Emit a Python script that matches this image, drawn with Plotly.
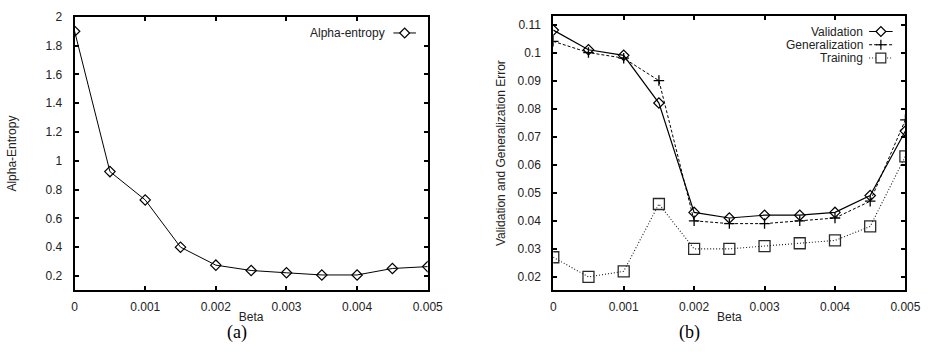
import plotly.graph_objects as go

beta = [0, 0.0005, 0.001, 0.0015, 0.002, 0.0025, 0.003, 0.0035, 0.004, 0.0045, 0.005]
alpha_entropy = [1.90, 0.925, 0.728, 0.40, 0.275, 0.238, 0.222, 0.207, 0.207, 0.252, 0.265]
validation = [0.108, 0.101, 0.099, 0.082, 0.043, 0.041, 0.042, 0.042, 0.043, 0.049, 0.072]
generalization = [0.104, 0.100, 0.098, 0.090, 0.040, 0.039, 0.039, 0.040, 0.041, 0.047, 0.076]
training = [0.027, 0.020, 0.022, 0.046, 0.030, 0.030, 0.031, 0.032, 0.033, 0.038, 0.063]

x_ticks = [0, 0.001, 0.002, 0.003, 0.004, 0.005]
x_ticktext = ["0", "0.001", "0.002", "0.003", "0.004", "0.005"]
ya_ticks = [0.2, 0.4, 0.6, 0.8, 1.0, 1.2, 1.4, 1.6, 1.8, 2.0]
ya_ticktext = ["0.2", "0.4", "0.6", "0.8", "1", "1.2", "1.4", "1.6", "1.8", "2"]
yb_ticks = [0.02, 0.03, 0.04, 0.05, 0.06, 0.07, 0.08, 0.09, 0.10, 0.11]
yb_ticktext = ["0.02", "0.03", "0.04", "0.05", "0.06", "0.07", "0.08", "0.09", "0.1", "0.11"]

W, H = 941, 359
def px(x):
    return x / W
def py(y):
    return 1 - y / H

SANS = "Liberation Sans, Arial, sans-serif"
SERIF = "Liberation Serif, DejaVu Serif, serif"
FS = 12

fig = go.Figure()

fig.add_trace(go.Scatter(x=beta, y=alpha_entropy, mode="lines+markers", xaxis="x", yaxis="y",
                         line=dict(color="black", width=1),
                         marker=dict(symbol="diamond-open", size=8, color="black", line=dict(width=1.2)),
                         showlegend=False))
fig.add_trace(go.Scatter(x=beta, y=validation, mode="lines+markers", xaxis="x2", yaxis="y2",
                         line=dict(color="black", width=1.2),
                         marker=dict(symbol="diamond-open", size=8, color="black", line=dict(width=1.2)),
                         showlegend=False))
fig.add_trace(go.Scatter(x=beta, y=generalization, mode="lines+markers", xaxis="x2", yaxis="y2",
                         line=dict(color="black", width=1, dash="3px,2px"),
                         marker=dict(symbol="cross-thin-open", size=7.5, color="black", line=dict(width=1.3, color="black")),
                         showlegend=False))
fig.add_trace(go.Scatter(x=beta, y=training, mode="lines+markers", xaxis="x2", yaxis="y2",
                         line=dict(color="#1a1a1a", width=1.1, dash="1px,2px"),
                         marker=dict(symbol="square-open", size=11, color="#2a2a2a", line=dict(width=1.3)),
                         showlegend=False))

axis_common = dict(showline=True, linecolor="black", linewidth=2, mirror="ticks",
                   ticks="inside", ticklen=4, tickwidth=1.5, tickcolor="black",
                   showgrid=False, zeroline=False,
                   tickfont=dict(family=SANS, size=FS, color="#222222"))
title_font = dict(family=SANS, size=FS, color="#222222")

fig.update_layout(
    width=W, height=H, margin=dict(l=0, r=0, t=0, b=0),
    paper_bgcolor="white", plot_bgcolor="white",
    xaxis=dict(domain=[px(73), px(433)], range=[0, 0.005], anchor="y",
               tickvals=x_ticks, ticktext=x_ticktext, ticklabelstandoff=4,
               title=dict(text="Beta", font=title_font, standoff=0),
               **axis_common),
    yaxis=dict(domain=[py(289), py(10)], range=[0.1, 2.0], anchor="x",
               tickvals=ya_ticks, ticktext=ya_ticktext, ticklabelstandoff=8,
               title=dict(text="Alpha-Entropy", font=title_font, standoff=26),
               **axis_common),
    xaxis2=dict(domain=[px(561), px(920)], range=[0, 0.005], anchor="y2",
                tickvals=x_ticks, ticktext=x_ticktext, ticklabelstandoff=4,
                title=dict(text="Beta", font=title_font, standoff=0),
                **axis_common),
    yaxis2=dict(domain=[py(289), py(9)], range=[0.0152, 0.1131], anchor="x2",
                tickvals=yb_ticks, ticktext=yb_ticktext, ticklabelstandoff=8,
                title=dict(text="Validation and Generalization Error", font=title_font, standoff=9),
                **axis_common),
)

# panel captions
fig.add_annotation(text="(a)", x=px(226), y=py(345), xref="paper", yref="paper",
                   showarrow=False, font=dict(family=SERIF, size=18, color="black"))
fig.add_annotation(text="(b)", x=px(713), y=py(345), xref="paper", yref="paper",
                   showarrow=False, font=dict(family=SERIF, size=18, color="black"))

# legends (gnuplot style: text right-aligned, sample to the right)
def legend_entry(text, text_right, yc, sample_x0, sample_x1, symbol, dash, color="black"):
    fig.add_annotation(text=text, x=px(text_right), y=py(yc), xref="paper", yref="paper",
                       xanchor="right", yanchor="middle", showarrow=False,
                       font=dict(family=SANS, size=FS, color="#222222"))
    fig.add_shape(type="line", xref="paper", yref="paper",
                  x0=px(sample_x0), x1=px(sample_x1), y0=py(yc), y1=py(yc),
                  line=dict(color=color, width=1, dash=dash))
    cx = (sample_x0 + sample_x1) / 2
    s = 5
    if symbol == "diamond":
        path = (f"M {px(cx-s)},{py(yc)} L {px(cx)},{py(yc-s)} L {px(cx+s)},{py(yc)} "
                f"L {px(cx)},{py(yc+s)} Z")
        fig.add_shape(type="path", xref="paper", yref="paper", path=path,
                      line=dict(color="black", width=1.2), fillcolor="white")
    elif symbol == "cross":
        fig.add_shape(type="line", xref="paper", yref="paper", x0=px(cx-s), x1=px(cx+s),
                      y0=py(yc), y1=py(yc), line=dict(color="black", width=1.2))
        fig.add_shape(type="line", xref="paper", yref="paper", x0=px(cx), x1=px(cx),
                      y0=py(yc-s), y1=py(yc+s), line=dict(color="black", width=1.2))
    elif symbol == "square":
        fig.add_shape(type="rect", xref="paper", yref="paper", x0=px(cx-5), x1=px(cx+5),
                      y0=py(yc-5), y1=py(yc+5), line=dict(color="#2a2a2a", width=1.2),
                      fillcolor="white")

legend_entry("Alpha-entropy", 391, 26.5, 398, 421, "diamond", "solid")
legend_entry("Validation", 879, 25, 883, 907, "diamond", "solid")
legend_entry("Generalization", 879, 38.5, 883, 907, "cross", "3px,2px")
legend_entry("Training", 879, 52, 883, 907, "square", "1px,2px", "#1a1a1a")

fig.write_html("out.html")
